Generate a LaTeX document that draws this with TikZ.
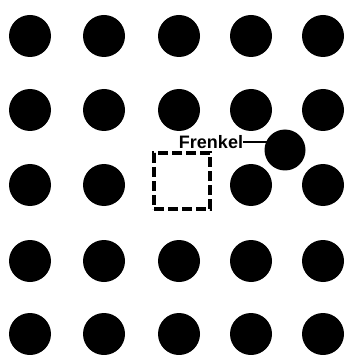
\documentclass[tikz,border=0pt]{standalone}
\usepackage{fontspec}
\setmainfont{Liberation Sans}
\begin{document}
\begin{tikzpicture}[x=1pt,y=-1pt,
  atom/.style={circle,fill=black,inner sep=0pt,minimum size=42pt},
  vac/.style={draw=black,line width=4pt,dash pattern=on 10pt off 4pt,minimum size=56pt,inner sep=0pt},
  lab/.style={font=\bfseries\fontsize{18}{18}\selectfont,inner sep=0pt}]
\useasboundingbox (0,0) rectangle (346,355);
\foreach \r/\y in {1/36,2/110,3/185,4/261,5/334}{
  \foreach \c/\x in {1/30,2/104,3/179,4/251,5/323}{
    \ifnum\r=3 \ifnum\c=3 \else
      \node[atom] (a\r\c) at (\x,\y) {};
    \fi\else
      \node[atom] (a\r\c) at (\x,\y) {};
    \fi
  }
}
\node[vac] (v) at (182,181) {};
\node[atom,minimum size=41pt] (i) at (285,150) {};
\node[lab] (t) at (211,142) {Frenkel};
\draw[line width=2.5pt] (t.east) -- (t.east -| i.center);
\end{tikzpicture}
\end{document}
